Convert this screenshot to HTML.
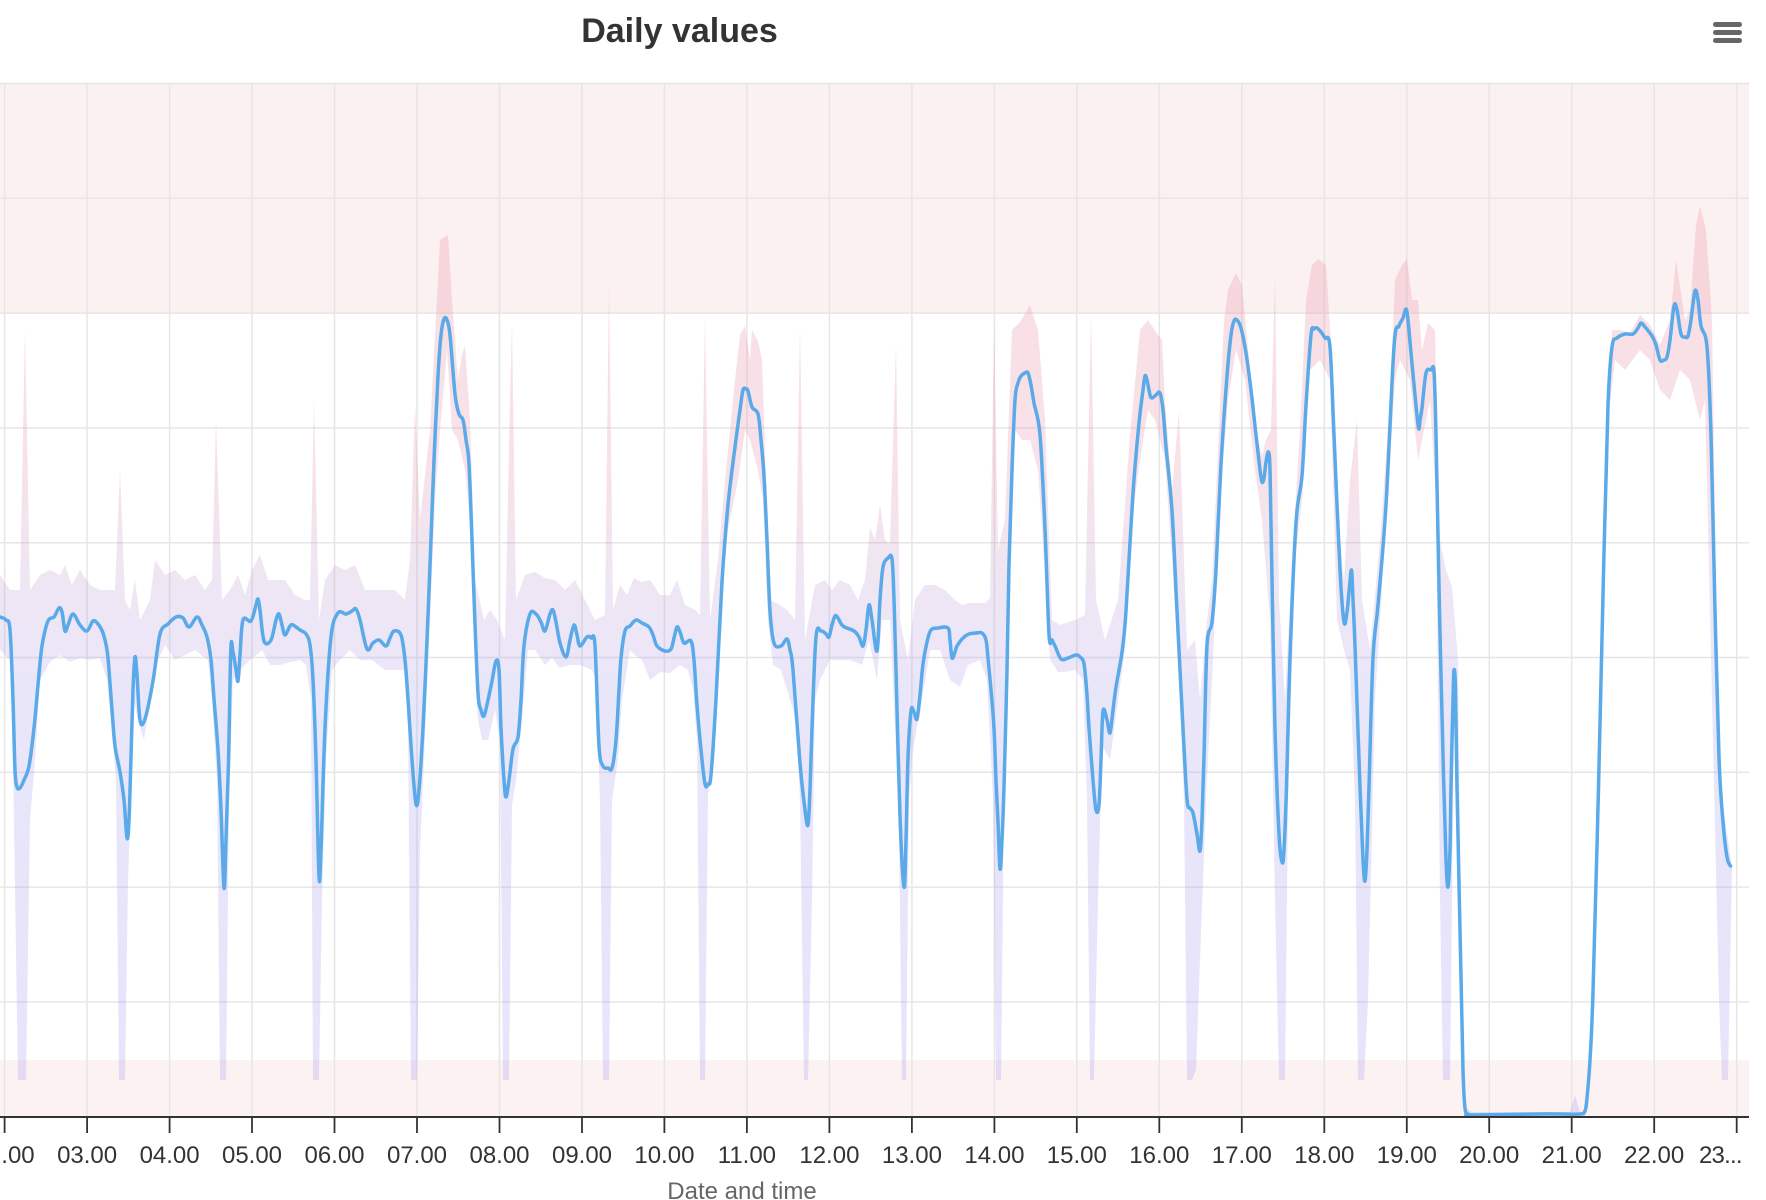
<!DOCTYPE html>
<html><head><meta charset="utf-8"><style>
html,body{margin:0;padding:0;background:#fff;}
svg{display:block;}
text{font-family:"Liberation Sans",Arial,sans-serif;}
</style></head><body>
<svg width="1766" height="1200" viewBox="0 0 1766 1200" xmlns="http://www.w3.org/2000/svg">
<defs>
<linearGradient id="bandg" gradientUnits="userSpaceOnUse" x1="0" y1="200" x2="0" y2="1090">
<stop offset="0" stop-color="rgb(235,140,160)" stop-opacity="0.28"/>
<stop offset="0.30" stop-color="rgb(228,145,170)" stop-opacity="0.27"/>
<stop offset="0.40" stop-color="rgb(200,160,205)" stop-opacity="0.27"/>
<stop offset="0.56" stop-color="rgb(172,160,236)" stop-opacity="0.26"/>
<stop offset="1" stop-color="rgb(160,150,240)" stop-opacity="0.26"/>
</linearGradient>
</defs>
<rect x="0" y="0" width="1766" height="1200" fill="#fff"/>
<!-- plot bands -->
<rect x="0" y="83.5" width="1749" height="229.6" fill="#fcf1f1"/>
<rect x="0" y="1060" width="1749" height="57" fill="#fdf2f2"/>
<!-- horizontal grid -->
<g stroke="#e6e6e6" stroke-width="1.5">
<line x1="0" y1="83.5" x2="1749" y2="83.5"/>
<line x1="0" y1="198.3" x2="1749" y2="198.3"/>
<line x1="0" y1="313.1" x2="1749" y2="313.1"/>
<line x1="0" y1="427.9" x2="1749" y2="427.9"/>
<line x1="0" y1="542.7" x2="1749" y2="542.7"/>
<line x1="0" y1="657.5" x2="1749" y2="657.5"/>
<line x1="0" y1="772.3" x2="1749" y2="772.3"/>
<line x1="0" y1="887.1" x2="1749" y2="887.1"/>
<line x1="0" y1="1001.9" x2="1749" y2="1001.9"/>
</g>
<!-- vertical grid -->
<g stroke="#e6e6e6" stroke-width="1.5">
<line x1="4.6" y1="83.5" x2="4.6" y2="1117"/>
<line x1="87.1" y1="83.5" x2="87.1" y2="1117"/>
<line x1="169.6" y1="83.5" x2="169.6" y2="1117"/>
<line x1="252" y1="83.5" x2="252" y2="1117"/>
<line x1="334.5" y1="83.5" x2="334.5" y2="1117"/>
<line x1="417" y1="83.5" x2="417" y2="1117"/>
<line x1="499.5" y1="83.5" x2="499.5" y2="1117"/>
<line x1="582" y1="83.5" x2="582" y2="1117"/>
<line x1="664.4" y1="83.5" x2="664.4" y2="1117"/>
<line x1="746.9" y1="83.5" x2="746.9" y2="1117"/>
<line x1="829.4" y1="83.5" x2="829.4" y2="1117"/>
<line x1="911.9" y1="83.5" x2="911.9" y2="1117"/>
<line x1="994.4" y1="83.5" x2="994.4" y2="1117"/>
<line x1="1076.8" y1="83.5" x2="1076.8" y2="1117"/>
<line x1="1159.3" y1="83.5" x2="1159.3" y2="1117"/>
<line x1="1241.8" y1="83.5" x2="1241.8" y2="1117"/>
<line x1="1324.3" y1="83.5" x2="1324.3" y2="1117"/>
<line x1="1406.8" y1="83.5" x2="1406.8" y2="1117"/>
<line x1="1489.2" y1="83.5" x2="1489.2" y2="1117"/>
<line x1="1571.7" y1="83.5" x2="1571.7" y2="1117"/>
<line x1="1654.2" y1="83.5" x2="1654.2" y2="1117"/>
<line x1="1736.7" y1="83.5" x2="1736.7" y2="1117"/>
</g>
<!-- range band -->
<polygon fill="url(#bandg)" points="
-5,575 0,575 10,590 20,590 25,330 30,590 40,575 50,570 60,575 65,565 72,585 80,570 90,585 100,590 110,590 115,590 120,470 125,600 130,610 135,580 140,620 150,600 155,560 165,575 175,570 185,580 195,575 205,590 212,580 216,420 222,600 230,590 238,575 245,595 252,570 260,555 268,580 275,580 285,580 295,595 305,600 310,600 314,400 319,620 325,580 335,565 345,570 355,565 365,590 380,590 395,590 405,600 410,560 415,405 420,520 430,430 440,240 448,235 452,300 458,380 462,355 465,345 470,420 475,580 484,620 490,610 497,620 505,640 510,400 512,323 516,600 525,575 535,572 545,578 555,580 565,590 575,580 585,600 595,620 605,615 609,282 613,610 620,585 627,595 634,578 641,582 650,580 660,595 670,595 677,580 685,605 695,610 700,615 705,317 710,620 718,560 725,480 735,380 740,335 745,326 750,360 752,330 758,341 762,360 770,600 780,605 787,610 795,620 800,326 805,640 815,585 825,580 832,590 840,580 850,585 858,600 865,580 870,528 875,540 880,505 885,540 890,544 896,344 900,620 908,660 915,600 925,585 935,585 945,590 955,600 962,605 970,603 985,603 990,598 994,323 998,550 1005,520 1012,330 1020,322 1030,305 1038,330 1045,420 1052,620 1060,625 1075,620 1085,615 1091,314 1096,600 1105,640 1118,600 1130,435 1140,330 1148,320 1158,335 1162,340 1165,400 1172,490 1179,411 1182,500 1187,650 1195,640 1200,700 1207,620 1212,580 1218,450 1224,320 1228,290 1236,273 1242,285 1250,370 1258,440 1262,455 1266,440 1271,430 1275,276 1279,600 1285,700 1292,560 1300,430 1306,300 1312,265 1318,259 1326,265 1332,360 1338,520 1344,580 1350,480 1357,420 1362,600 1370,650 1380,540 1390,400 1395,280 1402,265 1407,259 1412,300 1418,300 1422,350 1428,323 1435,330 1440,540 1446,570 1452,587 1458,660 1462,1020 1466,1108 1472,1112 1570,1112 1575,1095 1580,1112 1585,1110 1590,1055 1598,780 1604,540 1608,400 1612,330 1620,330 1630,333 1640,315 1650,325 1660,345 1670,320 1676,260 1685,320 1690,310 1696,225 1700,206 1706,230 1712,320 1716,580 1722,800 1728,840 1732,866
1728,1080 1722,1080 1719,1000 1712,700 1705,400 1700,420 1690,380 1680,370 1670,400 1660,390 1650,360 1640,350 1625,370 1615,360 1608,420 1600,800 1592,1040 1588,1100 1585,1116 1470,1117 1466,1116 1460,1000 1454,720 1450,1080 1443,1080 1440,900 1436,500 1430,400 1422,440 1418,460 1410,380 1400,360 1395,380 1385,540 1375,700 1368,1000 1364,1080 1358,1080 1355,800 1350,670 1344,650 1337,620 1330,380 1320,360 1310,370 1302,500 1295,560 1288,800 1285,1080 1279,1080 1275,900 1270,620 1262,520 1255,470 1245,380 1236,350 1228,400 1220,500 1212,680 1206,800 1200,960 1196,1070 1192,1080 1187,1080 1184,800 1178,660 1172,560 1165,460 1155,420 1148,410 1140,460 1132,520 1125,650 1118,700 1110,760 1102,745 1098,900 1094,1080 1090,1080 1087,800 1083,680 1075,670 1065,672 1058,672 1050,660 1044,560 1038,470 1030,440 1022,440 1015,430 1010,580 1004,800 1001,1080 996,1080 993,800 987,680 980,660 968,665 960,687 950,680 940,650 930,650 922,700 913,750 909,800 906,1080 902,1080 899,830 896,750 890,620 882,620 877,680 869,640 862,665 850,660 840,660 830,660 820,680 815,700 812,900 808,1080 804,1080 800,800 796,720 790,700 781,670 773,665 768,620 763,500 758,470 750,440 745,430 738,480 728,530 720,620 714,760 708,795 705,1080 700,1080 697,740 693,690 688,670 680,665 670,673 660,672 650,680 642,660 635,655 630,650 622,700 618,760 612,800 609,1080 603,1080 600,800 596,680 592,670 580,665 570,665 560,668 552,658 545,665 535,650 528,650 522,720 516,780 512,805 509,1080 503,1080 500,740 495,710 488,740 482,740 478,720 474,640 470,520 465,470 458,440 452,430 447,350 440,430 435,500 430,620 424,760 420,850 417,1080 411,1080 408,720 404,670 398,670 385,670 372,660 360,660 350,650 340,660 332,670 326,760 322,900 319,1080 313,1080 311,700 306,665 300,660 290,662 280,665 270,665 262,650 250,660 240,670 233,680 229,800 226,1080 220,1080 217,780 212,700 208,660 195,650 185,655 175,660 165,645 158,660 150,700 144,740 138,720 134,700 131,800 128,880 125,1080 119,1080 116,780 111,720 107,680 100,658 90,660 80,658 70,662 60,655 50,662 40,680 35,760 30,820 26,1080 18,1080 13,760 10,660 0,650 -5,650"/>
<!-- main line -->
<polyline id="mainline" fill="none" stroke="#5aa9e9" stroke-width="3.5" stroke-linejoin="round" stroke-linecap="round" points="
-5,615 0,617 6,620 10,630 13,700 15,770 17,787 20,788 24,780 29,766 34,728 38,685 42,646 48,621 54,617 59,608 62,612 65,631 68,625 73,614 80,625 87,631 93,621 98,624 103,633 107,650 109,670 112,710 115,746 120,772 124,800 127,838 129,820 131,757 133,690 135,657 137,675 140,720 145,719 153,681 160,634 168,624 176,617 183,618 189,627 197,617 202,625 207,637 211,660 214,699 218,750 221,810 224,888 226,840 228.5,763 230.8,650 233,652 236,670 238,681 240,655 243,620 251,621 256,605 258,599 260,610 264,641 271,640 276,620 279,614 282,625 285,635 290,626 293,625 300,630 306,634 310,645 313,680 316,760 319,876 321,850 325,728 331,637 338,613 346,614 352,611 356,609 360,620 367,649 373,643 379,640 386,646 390,638 394,631 401,635 405,660 408,699 412,760 416,804 419,790 423,728 427,640 430.5,552 434,460 438,376 441,335 444,319 447,320 450,335 455,394 459,414 463,420 466,440 469,464 472,540 474.5,611 478,693 481,710 484,716 488,700 492,681 496,661 499,670 501,728 504,780 506,797 509,780 513,749 518,737 521,700 524,646 530,614 536,614 541,622 545,631 550,614 553,610 556,622 560,643 566,657 570,640 574,625 577,635 580,646 587,637 591,638 595,646 599,746 603,766 608,768 612,768 616,740 619,690 621,658 625,631 630,626 636,620 642,623 649,627 653,635 657,646 665,651 671,649 674,638 677,627 680,632 684,643 691,641 694,660 697,705 701,750 705,784 708,784 711,775 716,699 722,582 728,505 735,447 740,410 743,390 746,389 748,391 752,407 758,414 761,440 764,476 767,540 770,611 774,643 781,646 787,639 790,650 793,670 800,763 805,810 808,825 810,790 812,728 816,637 821,631 826,634 829,637 832,625 835,616 838,618 843,626 854,631 859,637 863,646 866,630 869,605 872,620 877,651 880,600 883,567 888,558 892,559 894,600 896,670 900,816 904,887 906,840 908,758 911,711 914,712 917,719 920,695 923,664 927,642 931,630 938,628 948,628 950,640 952,658 955,652 957,646 963,638 969,634 976,633 982,633 986,640 988,658 991,690 994,728 996,780 998,822 1000,869 1002,840 1004,787 1007,670 1009,564 1012,470 1015,400 1018,383 1021,376 1025,373 1028,373 1031,385 1034,403 1040,435 1045,529 1049,634 1052,640 1055,646 1061,659 1068,658 1076,655 1080,657 1084,664 1087,695 1089,728 1093,780 1096,810 1099,805 1101,760 1103,711 1107,720 1110,733 1113,710 1116,687 1122,652 1126,611 1133,493 1139,423 1143,390 1145,376 1147,380 1150,395 1152,398 1156,395 1160,393 1163,410 1166,447 1172,511 1177,611 1183,728 1187,799 1190,808 1193,813 1197,834 1200,851 1202,820 1204,757 1207,646 1212,622 1216,570 1221,464 1227,376 1231,335 1234,321 1237,320 1241,328 1246,353 1251,390 1256,435 1260,470 1262,482 1264,478 1266,462 1268.5,452 1270,470 1271.5,552 1275,728 1279,834 1282,862 1284,850 1286.5,787 1290,658 1296,523 1302,476 1306,405 1311,335 1314,329 1317,328 1321,332 1325,338 1330,347 1334,435 1340,570 1344,622 1347,612 1349,592 1351.5,570 1353,600 1355,646 1360,787 1363,860 1365,881 1367,850 1369,787 1373,658 1378,605 1386,505 1394,347 1399,326 1403,318 1406,309 1408,320 1411,353 1415,395 1418.5,428 1420,420 1422,408 1426,373 1431,370 1434,372 1436,435 1439.5,611 1443.5,775 1446,860 1448,887 1450,850 1451,787 1453,700 1454,670 1455.5,690 1457,787 1460.7,963 1463,1070 1465,1108 1468,1114 1472,1115 1540,1114 1560,1114 1580,1114 1585,1111 1587,1098 1590,1060 1593,992 1598.5,787 1604,552 1608,405 1612,347 1617,338 1625,334 1633,334 1638,328 1641,323 1645,327 1652,336 1656,345 1660,360 1664,360 1667,357 1670,340 1674,306 1677,310 1681,334 1685,337 1688,336 1691,320 1695,291 1698,300 1701,326 1707,347 1711,435 1715,611 1719,758 1723,822 1727,857 1730.5,866"/>
<!-- x axis -->
<line x1="0" y1="1117" x2="1749" y2="1117" stroke="#333" stroke-width="2"/>
<g stroke="#333" stroke-width="1.8">
<line x1="4.6" y1="1117" x2="4.6" y2="1133"/>
<line x1="87.1" y1="1117" x2="87.1" y2="1133"/>
<line x1="169.6" y1="1117" x2="169.6" y2="1133"/>
<line x1="252" y1="1117" x2="252" y2="1133"/>
<line x1="334.5" y1="1117" x2="334.5" y2="1133"/>
<line x1="417" y1="1117" x2="417" y2="1133"/>
<line x1="499.5" y1="1117" x2="499.5" y2="1133"/>
<line x1="582" y1="1117" x2="582" y2="1133"/>
<line x1="664.4" y1="1117" x2="664.4" y2="1133"/>
<line x1="746.9" y1="1117" x2="746.9" y2="1133"/>
<line x1="829.4" y1="1117" x2="829.4" y2="1133"/>
<line x1="911.9" y1="1117" x2="911.9" y2="1133"/>
<line x1="994.4" y1="1117" x2="994.4" y2="1133"/>
<line x1="1076.8" y1="1117" x2="1076.8" y2="1133"/>
<line x1="1159.3" y1="1117" x2="1159.3" y2="1133"/>
<line x1="1241.8" y1="1117" x2="1241.8" y2="1133"/>
<line x1="1324.3" y1="1117" x2="1324.3" y2="1133"/>
<line x1="1406.8" y1="1117" x2="1406.8" y2="1133"/>
<line x1="1489.2" y1="1117" x2="1489.2" y2="1133"/>
<line x1="1571.7" y1="1117" x2="1571.7" y2="1133"/>
<line x1="1654.2" y1="1117" x2="1654.2" y2="1133"/>
<line x1="1736.7" y1="1117" x2="1736.7" y2="1133"/>
</g>
<g font-size="24" fill="#333" text-anchor="middle">
<text x="4.6" y="1163">02.00</text>
<text x="87.1" y="1163">03.00</text>
<text x="169.6" y="1163">04.00</text>
<text x="252" y="1163">05.00</text>
<text x="334.5" y="1163">06.00</text>
<text x="417" y="1163">07.00</text>
<text x="499.5" y="1163">08.00</text>
<text x="582" y="1163">09.00</text>
<text x="664.4" y="1163">10.00</text>
<text x="746.9" y="1163">11.00</text>
<text x="829.4" y="1163">12.00</text>
<text x="911.9" y="1163">13.00</text>
<text x="994.4" y="1163">14.00</text>
<text x="1076.8" y="1163">15.00</text>
<text x="1159.3" y="1163">16.00</text>
<text x="1241.8" y="1163">17.00</text>
<text x="1324.3" y="1163">18.00</text>
<text x="1406.8" y="1163">19.00</text>
<text x="1489.2" y="1163">20.00</text>
<text x="1571.7" y="1163">21.00</text>
<text x="1654.2" y="1163">22.00</text>
</g>
<text x="1699" y="1163" font-size="24" fill="#333" letter-spacing="-0.8">23...</text>
<text x="742" y="1199" font-size="24" fill="#666" text-anchor="middle">Date and time</text>
<!-- title -->
<text x="679.5" y="42" font-size="34" font-weight="bold" fill="#333" text-anchor="middle">Daily values</text>
<!-- menu icon -->
<g fill="#666">
<rect x="1713" y="22" width="29" height="5" rx="2.5"/>
<rect x="1713" y="30" width="29" height="5" rx="2.5"/>
<rect x="1713" y="38" width="29" height="5" rx="2.5"/>
</g>
</svg>
<script>
(function(){
  try{
    var pl=document.getElementById('mainline');
    var raw=pl.getAttribute('points').trim().split(/\s+/);
    var p=raw.map(function(s){var a=s.split(',');return [parseFloat(a[0]),parseFloat(a[1])];});
    var d='M'+p[0][0]+','+p[0][1];
    var t=0.5/3;
    for(var i=0;i<p.length-1;i++){
      var p0=p[i>0?i-1:i],p1=p[i],p2=p[i+1],p3=p[i+2<p.length?i+2:i+1];
      var c1x=p1[0]+(p2[0]-p0[0])*t, c1y=p1[1]+(p2[1]-p0[1])*t;
      var c2x=p2[0]-(p3[0]-p1[0])*t, c2y=p2[1]-(p3[1]-p1[1])*t;
      d+=' C'+c1x.toFixed(2)+','+c1y.toFixed(2)+' '+c2x.toFixed(2)+','+c2y.toFixed(2)+' '+p2[0]+','+p2[1];
    }
    var ns='http://www.w3.org/2000/svg';
    var path=document.createElementNS(ns,'path');
    path.setAttribute('d',d);
    path.setAttribute('fill','none');
    path.setAttribute('stroke','#5aa9e9');
    path.setAttribute('stroke-width','3.5');
    path.setAttribute('stroke-linejoin','round');
    path.setAttribute('stroke-linecap','round');
    pl.parentNode.replaceChild(path,pl);
  }catch(e){}
})();
</script>
</body></html>
